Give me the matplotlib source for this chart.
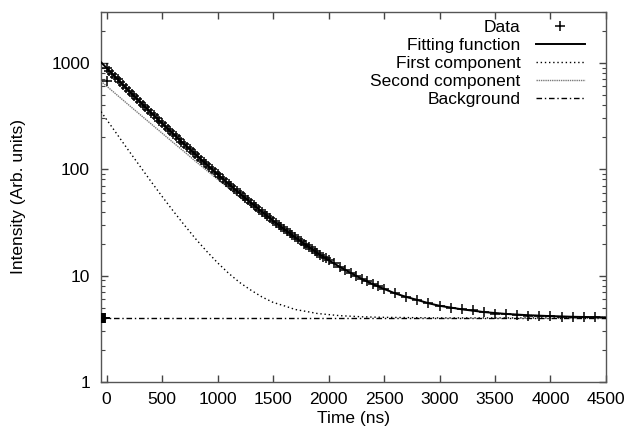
import numpy as np
import matplotlib
matplotlib.use("Agg")
import matplotlib.pyplot as plt

plt.rcParams['font.family'] = ['Liberation Sans', 'DejaVu Sans']

# dados medidos (tempo em ns, intensidade em unidades arbitrárias)
t_pre = [-45, -40, -35, -30, -25, -20, -15, -10]
i_pre = [4.0, 4.0, 4.0, 4.0, 4.0, 4.0, 4.0, 4.0]

t_edge = [5]
i_edge = [680]

t_data = [0, 25, 50, 75, 100, 125, 150, 175, 200, 225, 250, 275, 300, 325, 350,
          375, 400, 425, 450, 475, 500, 525, 550, 575, 600, 625, 650, 675, 700,
          725, 750, 775, 800, 825, 850, 875, 900, 925, 950, 975, 1000, 1025,
          1050, 1075, 1100, 1125, 1150, 1175, 1200, 1225, 1250, 1275, 1300,
          1325, 1350, 1375, 1400, 1425, 1450, 1475, 1500, 1525, 1550, 1575,
          1600, 1625, 1650, 1675, 1700, 1725, 1750, 1775, 1800, 1825, 1850,
          1875, 1900, 1925, 1950, 1975, 2000, 2050, 2100, 2150, 2200, 2250,
          2300, 2350, 2400, 2450, 2500, 2600, 2700, 2800, 2900, 3000, 3100,
          3200, 3300, 3400, 3500, 3600, 3700, 3800, 3900, 4000, 4100, 4200,
          4300, 4400]
i_data = [893, 839, 788, 741, 697, 655, 617, 580, 546, 514, 484, 456, 430, 405,
          382, 360, 340, 320, 302, 285, 270, 254, 240, 227, 215, 203, 192, 181,
          172, 162, 154, 145, 138, 130, 123, 117, 111, 105, 99.5, 94.4, 89.5,
          84.9, 80.6, 76.5, 72.6, 69.0, 65.5, 62.2, 59.1, 56.2, 53.5, 50.9,
          48.4, 46.1, 43.9, 41.7, 39.8, 37.9, 36.1, 34.5, 32.8, 31.4, 30.0,
          28.6, 27.3, 26.1, 25.0, 23.9, 22.8, 21.9, 21.0, 20.0, 19.3, 18.4,
          17.7, 17.0, 16.3, 15.7, 15.1, 14.5, 14.0, 13.0, 12.1, 11.3, 10.6,
          9.9, 9.3, 8.8, 8.3, 7.9, 7.5, 6.8, 6.3, 5.9, 5.5, 5.2, 5.0, 4.8,
          4.7, 4.5, 4.4, 4.4, 4.3, 4.2, 4.2, 4.2, 4.1, 4.1, 4.1, 4.1]

# curvas do ajuste
t_fit = [-50, 0, 100, 200, 300, 400, 500, 600, 700, 800, 900, 1000, 1100, 1200,
         1300, 1400, 1500, 1600, 1700, 1800, 1900, 2000, 2100, 2200, 2300, 2400,
         2500, 2600, 2700, 2800, 2900, 3000, 3200, 3400, 3600, 3800, 4000, 4200,
         4500]
i_fit = [1012, 893, 697, 546, 430, 340, 270, 215, 172, 138, 111, 89.5, 72.6,
         59.1, 48.4, 39.8, 32.8, 27.3, 22.8, 19.3, 16.3, 14.0, 12.1, 10.6, 9.3,
         8.3, 7.5, 6.8, 6.3, 5.9, 5.5, 5.2, 4.82, 4.54, 4.36, 4.24, 4.16, 4.10,
         4.05]
i_first = [347, 293, 209, 149, 107, 76.7, 55.5, 40.5, 29.9, 22.3, 17.0, 13.2,
           10.5, 8.6, 7.3, 6.3, 5.6, 5.2, 4.8, 4.6, 4.4, 4.3, 4.2, 4.15, 4.1,
           4.07, 4.05, 4.04, 4.03, 4.02, 4.01, 4.0, 4.0, 4.0, 4.0, 4.0, 4.0,
           4.0, 4.0]
i_second = [669, 604, 492, 401, 327, 267, 218, 178, 146, 119, 97.8, 80.3, 66.1,
            54.5, 45.1, 37.5, 31.2, 26.2, 22.0, 18.7, 15.9, 13.7, 11.9, 10.4,
            9.2, 8.25, 7.46, 6.8, 6.3, 5.9, 5.5, 5.2, 4.82, 4.54, 4.36, 4.24,
            4.16, 4.10, 4.05]
t_bg = [-50, 4500]
i_bg = [4.0, 4.0]

fig = plt.figure(figsize=(6.29, 4.36), dpi=100)
ax = fig.add_axes([0.1606, 0.1239, 0.8028, 0.8486])

ax.plot(t_pre + t_edge + t_data, i_pre + i_edge + i_data, ls='none', marker='+',
        ms=6.5, mew=1.1, color='black', label='Data', zorder=5)
ax.plot(t_fit, i_fit, '-', color='black', lw=1.4, label='Fitting function', zorder=4)
ax.plot(t_fit, i_first, color='black', lw=1.0, ls=(0, (1, 2)), label='First component', zorder=3)
ax.plot(t_fit, i_second, color='#7a7a7a', lw=1.0, ls=(0, (1, 0.6)), label='Second component', zorder=3)
ax.plot(t_bg, i_bg, color='black', lw=1.0, ls=(0, (4, 2, 1, 2)), label='Background', zorder=3)

ax.set_yscale('log')
ax.set_xlim(-50, 4500)
ax.set_ylim(1, 3000)
ax.set_xticks(np.arange(0, 4501, 500))
ax.set_yticks([1, 10, 100, 1000])
ax.set_yticklabels(['1', '10', '100', '1000'])
ax.xaxis.set_minor_locator(matplotlib.ticker.NullLocator())

ax.tick_params(which='both', direction='in', top=True, right=True,
               colors='#444444', labelcolor='black', labelsize=12.5)
ax.tick_params(which='major', length=5, width=1)
ax.tick_params(which='minor', length=3, width=0.8)
ax.tick_params(axis='y', which='major', pad=8)
ax.tick_params(axis='x', which='major', pad=7)
for s in ax.spines.values():
    s.set_color('#555555')
    s.set_linewidth(1.0)

ax.set_xlabel('Time (ns)', fontsize=12.5, labelpad=3)
ax.set_ylabel('Intensity (Arb. units)', fontsize=12.5, labelpad=18)

ax.legend(loc='upper right', bbox_to_anchor=(0.958, 0.978), frameon=False,
          markerfirst=False, fontsize=12.5, handlelength=2.8, handletextpad=0.9,
          labelspacing=0.16, borderaxespad=0, borderpad=0)

fig.savefig('out.png', dpi=100)
